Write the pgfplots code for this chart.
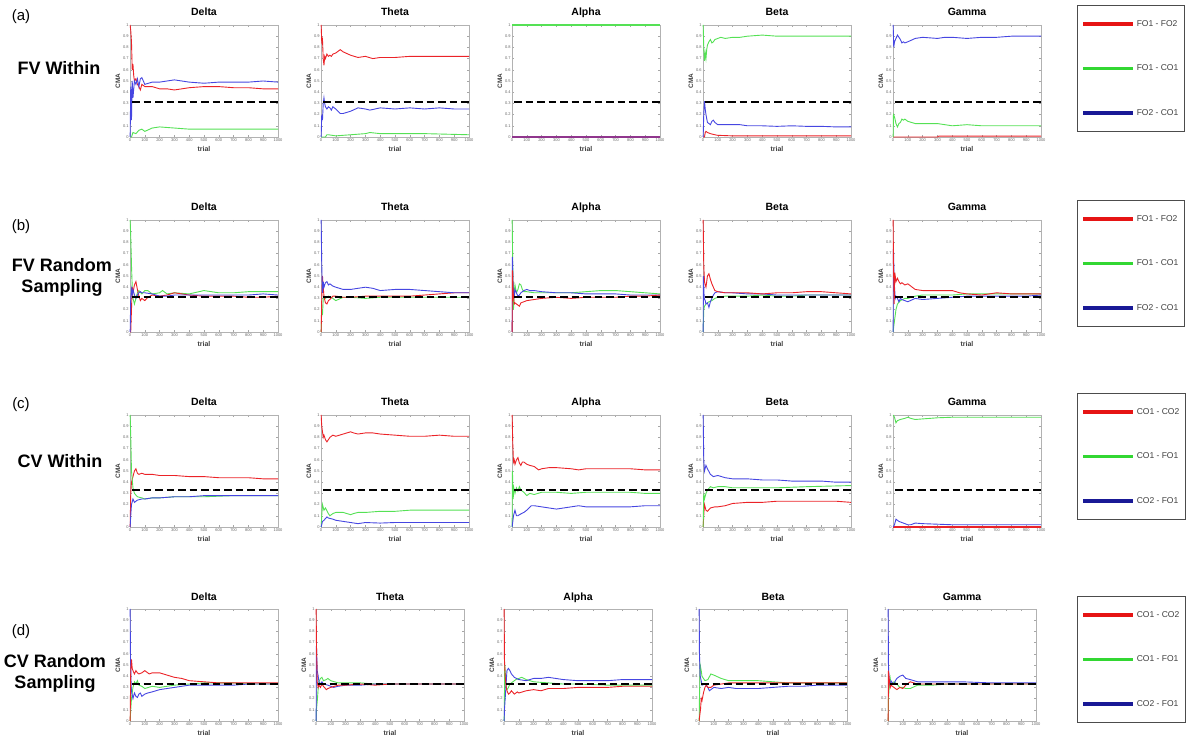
\documentclass[border=0pt]{standalone}
\usepackage{fontspec}
\setmainfont{Liberation Sans}
\usepackage{pgfplots}
\pgfplotsset{compat=1.18}
\definecolor{cr}{RGB}{235,35,40}
\definecolor{cg}{RGB}{85,225,85}
\definecolor{cb}{RGB}{70,70,225}
\definecolor{lr}{RGB}{230,20,20}
\definecolor{lg}{RGB}{50,215,50}
\definecolor{lb}{RGB}{25,25,150}
\newcommand{\chance}[1]{\addplot[black, line width=1.6pt, dash pattern=on 7.5pt off 4pt, forget plot] coordinates {(15,#1) (1000,#1)};}
\pgfplotsset{
 sr/.style={color=cr, line width=0.9pt, forget plot},
 sg/.style={color=cg, line width=0.9pt, forget plot},
 sb/.style={color=cb, line width=0.9pt, forget plot},
 panel/.style n args={3}{
  at={(#1pt,#2pt)}, anchor=south west, title={#3},
  scale only axis, width=148pt, height=112pt,
  xmin=0, xmax=1000, ymin=0, ymax=1,
  xtick={0,100,200,300,400,500,600,700,800,900,1000},
  ytick={0,0.1,0.2,0.3,0.4,0.5,0.6,0.7,0.8,0.9,1},
  /pgf/number format/assume math mode=true,
  /pgf/number format/1000 sep={},
  scaled x ticks=false, scaled y ticks=false,
  tick align=inside, major tick length=1.8pt,
  axis line style={draw=black!30},
  tick style={draw=black!35, line width=0.3pt},
  ticklabel style={font=\fontsize{4}{4}\selectfont, text=black!60},
  xticklabel style={inner sep=1.2pt},
  yticklabel style={inner sep=1.2pt},
  xlabel=trial, ylabel=CMA,
  xlabel style={at={(axis description cs:0.5,0)}, anchor=center, yshift=-12pt, font=\bfseries\fontsize{7}{8}\selectfont, text=black!75},
  ylabel style={at={([xshift=-12pt]axis description cs:0,0.5)}, anchor=center, font=\bfseries\fontsize{6.5}{8}\selectfont, text=black!75},
  title style={at={(axis description cs:0.5,1)}, anchor=base, yshift=3pt, font=\bfseries\fontsize{10.5}{12}\selectfont},
  clip=false,
  legend image code/.code={\draw[##1] (0pt,0pt) -- (50pt,0pt);},
 },
 leg/.style 2 args={legend style={at={(axis description cs:#1,#2)}, anchor=north west, draw=black!70, line width=0.6pt, fill=white, text=black!75, font=\fontsize{8.5}{10}\selectfont, row sep=33pt, inner xsep=4pt, inner ysep=13pt, cells={anchor=west}}},
}
\begin{document}
\begin{tikzpicture}
\path[use as bounding box] (0pt,0pt) rectangle (1189pt,737pt);
% row labels
\node[font=\fontsize{15}{18}\selectfont] at (21pt,720pt) {(a)};
\node[font=\bfseries\fontsize{18}{21}\selectfont] at (59pt,669pt) {FV Within};
\node[font=\fontsize{15}{18}\selectfont] at (21pt,510pt) {(b)};
\node[font=\bfseries\fontsize{18}{21}\selectfont, align=center] at (62pt,460pt) {FV Random\\Sampling};
\node[font=\fontsize{15}{18}\selectfont] at (21pt,332pt) {(c)};
\node[font=\bfseries\fontsize{18}{21}\selectfont] at (60pt,276pt) {CV Within};
\node[font=\fontsize{15}{18}\selectfont] at (21pt,105pt) {(d)};
\node[font=\bfseries\fontsize{18}{21}\selectfont, align=center] at (55pt,64pt) {CV Random\\Sampling};

%%%%%%%%%%%%%%%% ROW A
\begin{axis}[panel={130}{600}{Delta}]
\addplot[sr] coordinates {(1,1)(5,0.95)(10,0.85)(15,0.6)(20,0.65)(25,0.55)(30,0.5)(40,0.52)(50,0.47)(60,0.45)(70,0.42)(80,0.47)(100,0.45)(150,0.45)(200,0.43)(250,0.43)(300,0.42)(400,0.44)(500,0.45)(600,0.45)(700,0.44)(800,0.44)(900,0.43)(1000,0.43)};
\addplot[sg] coordinates {(1,0)(10,0)(20,0.04)(40,0.03)(60,0.06)(80,0.07)(100,0.05)(150,0.08)(200,0.09)(300,0.08)(400,0.07)(500,0.07)(700,0.07)(1000,0.07)};
\addplot[sb] coordinates {(1,0)(5,0.45)(10,0.15)(15,0.5)(20,0.35)(30,0.5)(40,0.47)(50,0.52)(60,0.45)(70,0.52)(80,0.53)(100,0.47)(150,0.49)(200,0.49)(300,0.51)(400,0.49)(500,0.48)(600,0.49)(700,0.49)(800,0.49)(900,0.5)(1000,0.49)};
\chance{0.31}
\end{axis}
\begin{axis}[panel={321}{600}{Theta}]
\addplot[sr] coordinates {(1,1)(5,0.85)(10,0.87)(15,0.7)(20,0.64)(25,0.72)(30,0.7)(40,0.74)(50,0.72)(60,0.73)(70,0.72)(80,0.74)(100,0.75)(120,0.77)(130,0.78)(150,0.76)(200,0.73)(250,0.71)(300,0.72)(350,0.70)(400,0.71)(500,0.71)(600,0.72)(700,0.72)(800,0.72)(900,0.72)(1000,0.72)};
\addplot[sg] coordinates {(1,0)(30,0)(40,0.02)(50,0.02)(100,0.01)(200,0.02)(300,0.03)(330,0.04)(400,0.03)(500,0.03)(700,0.03)(1000,0.02)};
\addplot[sb] coordinates {(1,0)(5,0.2)(10,0.15)(15,0.3)(20,0.35)(25,0.3)(30,0.27)(40,0.25)(50,0.27)(60,0.26)(70,0.24)(80,0.27)(100,0.25)(130,0.21)(150,0.21)(200,0.23)(250,0.26)(300,0.25)(330,0.24)(400,0.26)(500,0.25)(600,0.26)(700,0.25)(800,0.26)(900,0.25)(1000,0.25)};
\chance{0.31}
\end{axis}
\begin{axis}[panel={512}{600}{Alpha}]
\addplot[sg, line width=1.4pt] coordinates {(1,1)(1000,1)};
\addplot[sr, line width=1.4pt] coordinates {(1,0)(1000,0)};
\addplot[sb, line width=1.4pt, opacity=0.55] coordinates {(1,0)(1000,0)};
\chance{0.31}
\end{axis}
\begin{axis}[panel={703}{600}{Beta}]
\addplot[sr] coordinates {(1,0)(10,0)(15,0.04)(20,0.05)(30,0.04)(50,0.03)(80,0.02)(100,0.015)(200,0.01)(400,0.01)(1000,0.01)};
\addplot[sg] coordinates {(1,1)(5,0.8)(10,0.68)(15,0.75)(20,0.7)(25,0.78)(30,0.82)(40,0.85)(50,0.87)(60,0.84)(70,0.85)(80,0.87)(100,0.88)(120,0.89)(150,0.88)(200,0.89)(250,0.89)(300,0.9)(400,0.91)(500,0.9)(600,0.9)(700,0.9)(800,0.9)(900,0.9)(1000,0.9)};
\addplot[sb] coordinates {(1,0)(5,0.2)(10,0.32)(15,0.25)(20,0.2)(30,0.13)(40,0.12)(50,0.11)(60,0.14)(70,0.15)(80,0.13)(100,0.11)(150,0.11)(200,0.11)(250,0.11)(300,0.1)(400,0.1)(500,0.095)(600,0.1)(700,0.095)(800,0.095)(900,0.09)(1000,0.09)};
\chance{0.31}
\end{axis}
\begin{axis}[panel={893}{600}{Gamma}, leg={1.243}{1.179}]
\addlegendimage{lr, line width=3.5pt}\addlegendentry{FO1 - FO2}
\addlegendimage{lg, line width=3.5pt}\addlegendentry{FO1 - CO1}
\addlegendimage{lb, line width=3.5pt}\addlegendentry{FO2 - CO1}
\addplot[sr] coordinates {(1,0)(300,0)(310,0.008)(400,0.008)(1000,0.008)};
\addplot[sg] coordinates {(1,0)(3,0.2)(10,0.18)(20,0.12)(30,0.09)(40,0.12)(50,0.13)(60,0.16)(70,0.15)(80,0.16)(100,0.14)(150,0.12)(200,0.12)(300,0.12)(400,0.1)(500,0.11)(600,0.1)(700,0.1)(800,0.1)(900,0.1)(1000,0.1)};
\addplot[sb] coordinates {(1,1)(5,0.8)(10,0.85)(20,0.88)(30,0.91)(40,0.89)(50,0.87)(60,0.84)(70,0.85)(80,0.84)(100,0.85)(150,0.88)(200,0.89)(300,0.88)(350,0.89)(400,0.89)(500,0.88)(600,0.89)(700,0.89)(800,0.9)(900,0.9)(1000,0.9)};
\chance{0.31}
\end{axis}

%%%%%%%%%%%%%%%% ROW B
\begin{axis}[panel={130}{405}{Delta}]
\addplot[sg] coordinates {(1,1)(5,0.85)(10,0.6)(15,0.4)(20,0.3)(30,0.25)(40,0.3)(50,0.35)(60,0.37)(80,0.34)(100,0.37)(120,0.37)(150,0.34)(200,0.35)(220,0.37)(250,0.34)(300,0.35)(400,0.34)(500,0.37)(600,0.35)(700,0.35)(800,0.36)(900,0.36)(1000,0.36)};
\addplot[sr] coordinates {(1,0)(5,0)(10,0.2)(15,0.4)(20,0.35)(30,0.42)(40,0.45)(50,0.38)(60,0.32)(70,0.28)(80,0.3)(100,0.28)(120,0.31)(150,0.33)(200,0.32)(250,0.33)(300,0.35)(400,0.33)(500,0.32)(600,0.32)(700,0.32)(800,0.31)(900,0.31)(1000,0.32)};
\addplot[sb] coordinates {(1,0)(5,0.3)(10,0.38)(15,0.33)(20,0.38)(30,0.33)(40,0.3)(50,0.33)(60,0.35)(70,0.36)(80,0.35)(100,0.35)(150,0.34)(200,0.32)(250,0.32)(300,0.33)(400,0.33)(500,0.33)(600,0.33)(700,0.33)(800,0.33)(900,0.34)(1000,0.33)};
\chance{0.31}
\end{axis}
\begin{axis}[panel={321}{405}{Theta}]
\addplot[sg] coordinates {(1,0)(5,0.2)(10,0.15)(15,0.3)(20,0.32)(30,0.3)(50,0.32)(70,0.31)(100,0.28)(150,0.31)(200,0.31)(300,0.3)(400,0.31)(500,0.31)(600,0.31)(700,0.31)(800,0.31)(900,0.31)(1000,0.31)};
\addplot[sr] coordinates {(1,0)(5,0.3)(10,0.5)(15,0.4)(20,0.32)(30,0.26)(40,0.25)(50,0.28)(60,0.29)(80,0.32)(100,0.32)(150,0.31)(200,0.31)(300,0.32)(400,0.32)(500,0.32)(600,0.32)(700,0.33)(800,0.34)(900,0.35)(1000,0.35)};
\addplot[sb] coordinates {(1,1)(5,0.6)(10,0.35)(15,0.45)(20,0.4)(30,0.44)(40,0.45)(50,0.42)(60,0.43)(80,0.41)(100,0.4)(150,0.38)(200,0.38)(250,0.39)(300,0.4)(350,0.39)(400,0.37)(500,0.38)(600,0.38)(700,0.37)(800,0.36)(900,0.35)(1000,0.35)};
\chance{0.31}
\end{axis}
\begin{axis}[panel={512}{405}{Alpha}]
\addplot[sg] coordinates {(1,1)(5,0.6)(10,0.2)(15,0.35)(20,0.42)(30,0.35)(40,0.38)(50,0.43)(60,0.42)(70,0.38)(80,0.36)(100,0.36)(150,0.35)(200,0.35)(300,0.35)(400,0.35)(500,0.36)(600,0.37)(700,0.37)(800,0.36)(900,0.35)(1000,0.34)};
\addplot[sb] coordinates {(1,0)(3,0.67)(8,0.4)(15,0.3)(20,0.38)(30,0.35)(40,0.32)(50,0.33)(60,0.35)(80,0.37)(100,0.38)(120,0.37)(150,0.37)(200,0.36)(300,0.35)(400,0.35)(500,0.34)(600,0.34)(700,0.34)(800,0.33)(900,0.33)(1000,0.33)};
\addplot[sr] coordinates {(1,0)(3,0.55)(8,0.35)(15,0.25)(20,0.26)(30,0.25)(40,0.24)(50,0.23)(60,0.26)(80,0.27)(100,0.28)(150,0.29)(200,0.3)(300,0.31)(400,0.3)(500,0.31)(600,0.31)(700,0.31)(800,0.32)(900,0.32)(1000,0.33)};
\chance{0.31}
\end{axis}
\begin{axis}[panel={703}{405}{Beta}]
\addplot[sg] coordinates {(1,0)(5,0.2)(10,0.23)(20,0.25)(40,0.27)(60,0.28)(80,0.3)(100,0.31)(150,0.32)(200,0.32)(300,0.32)(400,0.33)(500,0.32)(600,0.32)(700,0.33)(800,0.33)(900,0.33)(1000,0.33)};
\addplot[sb] coordinates {(1,0)(3,0.5)(8,0.3)(15,0.28)(20,0.25)(30,0.26)(40,0.22)(50,0.27)(60,0.3)(70,0.33)(80,0.35)(100,0.36)(150,0.35)(200,0.35)(300,0.34)(400,0.34)(500,0.33)(600,0.33)(700,0.33)(800,0.33)(900,0.33)(1000,0.33)};
\addplot[sr] coordinates {(1,1)(5,0.6)(10,0.45)(15,0.42)(20,0.4)(30,0.5)(40,0.52)(50,0.47)(60,0.43)(80,0.37)(100,0.36)(150,0.35)(200,0.35)(300,0.35)(400,0.34)(500,0.35)(600,0.35)(700,0.36)(800,0.36)(900,0.35)(1000,0.34)};
\chance{0.31}
\end{axis}
\begin{axis}[panel={893}{405}{Gamma}, leg={1.243}{1.179}]
\addlegendimage{lr, line width=3.5pt}\addlegendentry{FO1 - FO2}
\addlegendimage{lg, line width=3.5pt}\addlegendentry{FO1 - CO1}
\addlegendimage{lb, line width=3.5pt}\addlegendentry{FO2 - CO1}
\addplot[sg] coordinates {(1,0)(5,0.05)(10,0.1)(20,0.2)(30,0.25)(50,0.28)(80,0.3)(100,0.3)(150,0.32)(200,0.33)(300,0.33)(400,0.33)(500,0.34)(600,0.34)(700,0.34)(800,0.34)(900,0.34)(1000,0.34)};
\addplot[sb] coordinates {(1,0)(3,0.75)(8,0.45)(15,0.3)(20,0.32)(30,0.3)(40,0.27)(50,0.3)(60,0.29)(80,0.28)(100,0.27)(150,0.3)(200,0.29)(300,0.3)(400,0.31)(500,0.32)(600,0.32)(700,0.32)(800,0.32)(900,0.32)(1000,0.33)};
\addplot[sr] coordinates {(1,1)(3,0.6)(8,0.25)(12,0.53)(20,0.45)(30,0.48)(40,0.45)(50,0.43)(60,0.44)(80,0.42)(100,0.43)(120,0.41)(150,0.38)(200,0.37)(300,0.37)(400,0.37)(450,0.35)(500,0.34)(600,0.33)(700,0.35)(800,0.34)(900,0.34)(1000,0.34)};
\chance{0.31}
\end{axis}

%%%%%%%%%%%%%%%% ROW C
\begin{axis}[panel={130}{210}{Delta}]
\addplot[sr] coordinates {(1,0)(5,0.3)(10,0.4)(20,0.45)(30,0.5)(40,0.52)(50,0.48)(60,0.47)(80,0.48)(100,0.47)(150,0.47)(200,0.46)(300,0.46)(400,0.45)(500,0.45)(600,0.44)(700,0.44)(800,0.44)(900,0.43)(1000,0.43)};
\addplot[sg] coordinates {(1,1)(5,0.8)(10,0.5)(20,0.35)(30,0.3)(50,0.27)(80,0.26)(100,0.25)(150,0.26)(200,0.26)(300,0.27)(400,0.27)(500,0.27)(700,0.28)(1000,0.28)};
\addplot[sb] coordinates {(1,0)(5,0.1)(10,0.2)(20,0.25)(30,0.22)(50,0.24)(80,0.25)(100,0.25)(150,0.26)(200,0.26)(300,0.27)(400,0.27)(500,0.28)(700,0.28)(1000,0.28)};
\chance{0.333}
\end{axis}
\begin{axis}[panel={321}{210}{Theta}]
\addplot[sr] coordinates {(1,1)(5,0.9)(10,0.85)(15,0.8)(20,0.82)(30,0.78)(40,0.76)(50,0.78)(60,0.8)(80,0.82)(100,0.81)(150,0.83)(200,0.85)(220,0.84)(250,0.83)(300,0.84)(350,0.84)(400,0.83)(500,0.82)(600,0.81)(700,0.81)(800,0.82)(900,0.81)(1000,0.81)};
\addplot[sg] coordinates {(1,0)(5,0.1)(10,0.2)(20,0.15)(30,0.17)(50,0.12)(60,0.1)(80,0.12)(100,0.13)(150,0.13)(200,0.11)(220,0.12)(250,0.13)(300,0.13)(400,0.14)(500,0.14)(600,0.15)(700,0.15)(800,0.15)(900,0.15)(1000,0.15)};
\addplot[sb] coordinates {(1,0)(10,0.05)(20,0.06)(40,0.09)(50,0.08)(80,0.07)(100,0.06)(150,0.05)(200,0.04)(250,0.03)(300,0.04)(400,0.035)(500,0.04)(600,0.04)(700,0.04)(800,0.04)(900,0.04)(1000,0.04)};
\chance{0.333}
\end{axis}
\begin{axis}[panel={512}{210}{Alpha}]
\addplot[sr] coordinates {(1,1)(5,0.75)(10,0.58)(15,0.6)(20,0.56)(30,0.6)(40,0.62)(50,0.57)(60,0.55)(70,0.58)(80,0.58)(100,0.56)(120,0.55)(150,0.54)(180,0.51)(200,0.52)(250,0.53)(300,0.53)(400,0.52)(450,0.51)(500,0.52)(600,0.52)(700,0.52)(800,0.52)(900,0.51)(1000,0.51)};
\addplot[sg] coordinates {(1,0)(3,0.5)(8,0.25)(12,0.35)(20,0.3)(30,0.35)(40,0.32)(50,0.36)(60,0.33)(80,0.31)(100,0.28)(120,0.3)(150,0.29)(200,0.31)(300,0.31)(400,0.3)(500,0.31)(600,0.31)(700,0.31)(800,0.31)(900,0.3)(1000,0.3)};
\addplot[sb] coordinates {(1,0)(10,0.1)(20,0.15)(30,0.1)(40,0.1)(50,0.11)(80,0.13)(100,0.15)(130,0.19)(150,0.19)(200,0.18)(300,0.16)(400,0.18)(450,0.19)(500,0.18)(600,0.18)(700,0.18)(800,0.18)(900,0.19)(1000,0.19)};
\chance{0.333}
\end{axis}
\begin{axis}[panel={703}{210}{Beta}]
\addplot[sr] coordinates {(1,0)(5,0.1)(10,0.2)(20,0.15)(30,0.14)(50,0.17)(80,0.18)(100,0.18)(150,0.19)(200,0.21)(300,0.22)(400,0.22)(500,0.23)(600,0.23)(700,0.23)(800,0.23)(900,0.23)(1000,0.22)};
\addplot[sg] coordinates {(1,0)(5,0.3)(10,0.25)(20,0.3)(30,0.33)(50,0.36)(70,0.35)(100,0.36)(150,0.36)(200,0.35)(300,0.35)(400,0.35)(500,0.35)(700,0.36)(1000,0.37)};
\addplot[sb] coordinates {(1,1)(5,0.6)(10,0.5)(20,0.55)(30,0.52)(50,0.47)(70,0.45)(100,0.46)(150,0.44)(200,0.43)(300,0.43)(400,0.42)(500,0.42)(600,0.41)(700,0.41)(800,0.41)(900,0.4)(1000,0.4)};
\chance{0.333}
\end{axis}
\begin{axis}[panel={893}{210}{Gamma}, leg={1.243}{1.196}]
\addlegendimage{lr, line width=3.5pt}\addlegendentry{CO1 - CO2}
\addlegendimage{lg, line width=3.5pt}\addlegendentry{CO1 - FO1}
\addlegendimage{lb, line width=3.5pt}\addlegendentry{CO2 - FO1}
\addplot[sr, line width=1.2pt] coordinates {(1,0)(1000,0)};
\addplot[sg] coordinates {(1,1)(10,0.98)(20,0.93)(30,0.95)(50,0.96)(80,0.97)(100,0.98)(120,0.97)(150,0.96)(200,0.965)(300,0.975)(400,0.98)(500,0.98)(700,0.98)(1000,0.98)};
\addplot[sb] coordinates {(1,0)(10,0.02)(20,0.07)(40,0.05)(80,0.03)(100,0.02)(120,0.02)(150,0.035)(200,0.03)(300,0.025)(400,0.02)(500,0.02)(700,0.02)(1000,0.02)};
\chance{0.333}
\end{axis}

%%%%%%%%%%%%%%%% ROW D
\begin{axis}[panel={130}{16}{Delta}]
\addplot[sg] coordinates {(1,0)(5,0.1)(10,0.2)(20,0.3)(30,0.35)(40,0.33)(50,0.36)(60,0.32)(80,0.31)(100,0.29)(150,0.31)(200,0.3)(300,0.32)(400,0.33)(500,0.34)(600,0.34)(700,0.34)(800,0.33)(900,0.33)(1000,0.33)};
\addplot[sb] coordinates {(1,1)(3,0.6)(8,0.3)(12,0.25)(20,0.2)(30,0.25)(40,0.22)(50,0.21)(60,0.24)(70,0.25)(80,0.22)(100,0.24)(120,0.25)(150,0.26)(200,0.28)(250,0.29)(300,0.3)(400,0.32)(500,0.32)(600,0.32)(700,0.32)(800,0.33)(900,0.33)(1000,0.33)};
\addplot[sr] coordinates {(1,0)(5,0.45)(10,0.55)(15,0.47)(20,0.45)(30,0.42)(40,0.45)(50,0.43)(60,0.42)(80,0.43)(100,0.45)(130,0.42)(150,0.43)(200,0.43)(250,0.41)(300,0.39)(350,0.38)(400,0.36)(500,0.35)(600,0.34)(700,0.34)(800,0.34)(900,0.34)(1000,0.34)};
\chance{0.333}
\end{axis}
\begin{axis}[panel={316}{16}{Theta}]
\addplot[sg] coordinates {(1,0)(3,0.1)(10,0.2)(15,0.3)(20,0.35)(30,0.38)(40,0.39)(50,0.36)(70,0.37)(80,0.38)(100,0.36)(150,0.34)(200,0.34)(300,0.34)(400,0.33)(500,0.33)(700,0.33)(1000,0.33)};
\addplot[sb] coordinates {(1,0)(3,0.67)(8,0.45)(15,0.4)(20,0.35)(30,0.33)(40,0.35)(50,0.33)(80,0.32)(100,0.31)(120,0.3)(150,0.31)(200,0.32)(300,0.32)(400,0.33)(500,0.33)(700,0.33)(1000,0.33)};
\addplot[sr] coordinates {(1,1)(3,0.7)(8,0.35)(15,0.3)(20,0.32)(30,0.3)(40,0.33)(50,0.31)(70,0.28)(80,0.29)(100,0.3)(150,0.32)(200,0.32)(300,0.33)(400,0.32)(500,0.33)(600,0.33)(700,0.33)(800,0.33)(900,0.33)(1000,0.33)};
\chance{0.333}
\end{axis}
\begin{axis}[panel={504}{16}{Alpha}]
\addplot[sg] coordinates {(1,0)(5,0.5)(10,0.4)(15,0.3)(20,0.28)(30,0.3)(40,0.33)(60,0.35)(80,0.37)(100,0.38)(120,0.39)(150,0.37)(200,0.35)(300,0.34)(400,0.33)(500,0.33)(700,0.32)(1000,0.32)};
\addplot[sb] coordinates {(1,0)(3,0.1)(8,0.2)(15,0.35)(20,0.45)(30,0.47)(40,0.45)(50,0.42)(70,0.39)(100,0.37)(150,0.36)(200,0.38)(250,0.38)(300,0.39)(350,0.38)(400,0.37)(500,0.36)(600,0.36)(700,0.36)(800,0.37)(900,0.37)(1000,0.37)};
\addplot[sr] coordinates {(1,1)(3,0.55)(8,0.4)(15,0.3)(20,0.27)(30,0.24)(40,0.25)(50,0.27)(70,0.24)(90,0.26)(100,0.25)(150,0.27)(200,0.28)(250,0.27)(300,0.29)(400,0.29)(500,0.3)(600,0.3)(700,0.3)(800,0.31)(900,0.31)(1000,0.31)};
\chance{0.333}
\end{axis}
\begin{axis}[panel={699}{16}{Beta}]
\addplot[sg] coordinates {(1,0)(3,0.2)(8,0.5)(15,0.45)(20,0.4)(40,0.36)(60,0.37)(80,0.42)(100,0.41)(150,0.38)(200,0.36)(300,0.36)(400,0.36)(500,0.35)(600,0.34)(700,0.34)(800,0.34)(900,0.34)(1000,0.34)};
\addplot[sb] coordinates {(1,1)(3,0.6)(8,0.4)(15,0.36)(20,0.32)(40,0.33)(60,0.3)(70,0.27)(80,0.28)(100,0.3)(150,0.29)(200,0.3)(250,0.29)(300,0.29)(400,0.29)(500,0.3)(600,0.31)(700,0.31)(800,0.32)(900,0.32)(1000,0.32)};
\addplot[sr] coordinates {(1,0)(5,0.05)(10,0.1)(15,0.2)(20,0.18)(30,0.25)(40,0.3)(50,0.32)(60,0.3)(80,0.3)(100,0.32)(150,0.33)(200,0.34)(300,0.34)(400,0.34)(500,0.34)(700,0.34)(1000,0.34)};
\chance{0.333}
\end{axis}
\begin{axis}[panel={888}{16}{Gamma}, leg={1.277}{1.116}]
\addlegendimage{lr, line width=3.5pt}\addlegendentry{CO1 - CO2}
\addlegendimage{lg, line width=3.5pt}\addlegendentry{CO1 - FO1}
\addlegendimage{lb, line width=3.5pt}\addlegendentry{CO2 - FO1}
\addplot[sg] coordinates {(1,0)(3,0.2)(8,0.3)(15,0.38)(20,0.33)(40,0.35)(60,0.33)(80,0.3)(100,0.3)(120,0.29)(150,0.29)(200,0.32)(300,0.32)(400,0.33)(500,0.33)(700,0.33)(1000,0.33)};
\addplot[sb] coordinates {(1,1)(3,0.5)(8,0.35)(15,0.32)(20,0.36)(30,0.34)(40,0.33)(50,0.36)(60,0.38)(80,0.4)(100,0.41)(120,0.38)(150,0.37)(200,0.35)(300,0.35)(400,0.35)(500,0.35)(700,0.34)(1000,0.34)};
\addplot[sr] coordinates {(1,0)(3,0.45)(8,0.38)(15,0.3)(20,0.32)(40,0.3)(60,0.28)(80,0.3)(100,0.29)(120,0.32)(150,0.35)(200,0.33)(300,0.33)(400,0.33)(500,0.33)(700,0.33)(1000,0.33)};
\chance{0.333}
\end{axis}
\end{tikzpicture}
\end{document}
